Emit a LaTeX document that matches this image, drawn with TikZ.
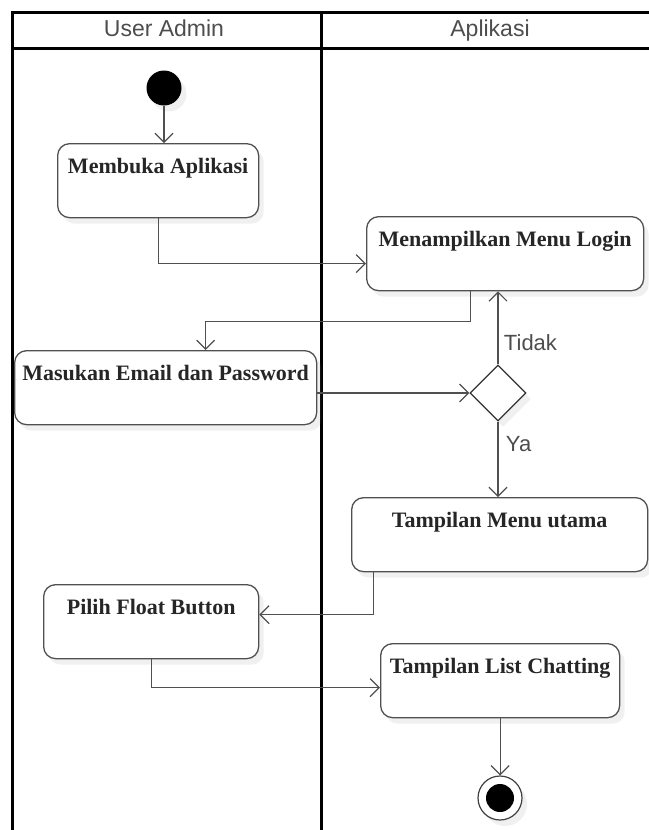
\documentclass[tikz,border=0pt]{standalone}
\usepackage{fontspec}
\setmainfont{Liberation Serif}
\setsansfont{Liberation Sans}
\usepackage{tikz}
\usetikzlibrary{shapes.geometric, arrows.meta, positioning, shadows}
\definecolor{lanegray}{HTML}{4D4D4D}
\definecolor{edgegray}{HTML}{505050}

\begin{document}
\begin{tikzpicture}[x=1pt, y=-1pt,
    act/.style={rectangle, rounded corners=12pt, draw=edgegray, fill=white,
        line width=1.3pt, font=\fontsize{22}{26}\selectfont\bfseries, text=black!85,
        inner xsep=0pt, inner ysep=8pt, text height=22pt, text depth=36pt,
        anchor=north west,
        drop shadow={opacity=0.12, shadow xshift=5pt, shadow yshift=-6pt}},
    decide/.style={diamond, draw=black!80, fill=white, line width=1.2pt,
        minimum size=56pt, inner sep=0pt,
        drop shadow={opacity=0.12, shadow xshift=5pt, shadow yshift=-6pt}},
    initial/.style={circle, fill=black, minimum size=35pt, inner sep=0pt,
        drop shadow={opacity=0.12, shadow xshift=5pt, shadow yshift=-6pt}},
    final/.style={circle, draw=black!75, fill=white, line width=1.2pt,
        minimum size=44pt, inner sep=0pt,
        path picture={\fill[black] (path picture bounding box.center) circle (14pt);},
        drop shadow={opacity=0.12, shadow xshift=5pt, shadow yshift=-6pt}},
    lane/.style={line width=3pt, black},
    lanetitle/.style={font=\sffamily\fontsize{23}{27}\selectfont, text=lanegray,
        text height=17pt, text depth=5pt, inner sep=0pt},
    guard/.style={font=\sffamily\fontsize{22}{26}\selectfont, text=lanegray},
    flow/.style={-{Straight Barb[length=9pt, width=18pt, line width=1.2pt]},
        line width=1.3pt, edgegray}
]
    \useasboundingbox (0,0) rectangle (648,830);

    % swimlanes
    \draw[lane] (12,832) -- (12,12) -- (650,12);
    \draw[lane] (12,48) -- (650,48);
    \draw[lane] (321,12) -- (321,832);
    \node[lanetitle] (admin) at (164,30) {User Admin};
    \node[lanetitle] (app) at (490,30) {Aplikasi};

    % left lane
    \node[initial] (start) at (164,88) {};
    \node[act, minimum width=201pt] (open) at (57,143) {Membuka Aplikasi};
    \node[act, minimum width=302pt] (input) at (14,350) {Masukan Email dan Password};
    \node[act, minimum width=215pt] (fab) at (43,584) {Pilih Float Button};

    % right lane
    \node[act, minimum width=277pt] (login) at (366,216) {Menampilkan Menu Login};
    \node[decide] (check) at (498,393) {};
    \node[act, minimum width=296pt] (home) at (351,497) {Tampilan Menu utama};
    \node[act, minimum width=239pt] (chat) at (380,643) {Tampilan List Chatting};
    \node[final] (stop) at (500,798) {};

    % flows
    \draw[flow] (start) -- (start |- open.north);
    \draw[flow] (open.south) |- ([yshift=-10pt]login.west);
    \draw[flow] ([xshift=-35pt]login.south) -- ++(0,30) -| ([xshift=40pt]input.north);
    \draw[flow] (input.east |- check) -- (check.west);
    \draw[flow] (check.north) -- node[guard, pos=0.3, anchor=west, xshift=2pt] (no) {Tidak} (check.north |- login.south);
    \draw[flow] (check.south) -- node[guard, pos=0.3, anchor=west, xshift=4pt] (yes) {Ya} (check.south |- home.north);
    \draw[flow] ([xshift=-126pt]home.south) |- ([yshift=7pt]fab.east);
    \draw[flow] (fab.south) |- ([yshift=-7pt]chat.west);
    \draw[flow] (chat.south) -- (chat.south |- stop.north);
\end{tikzpicture}
\end{document}
